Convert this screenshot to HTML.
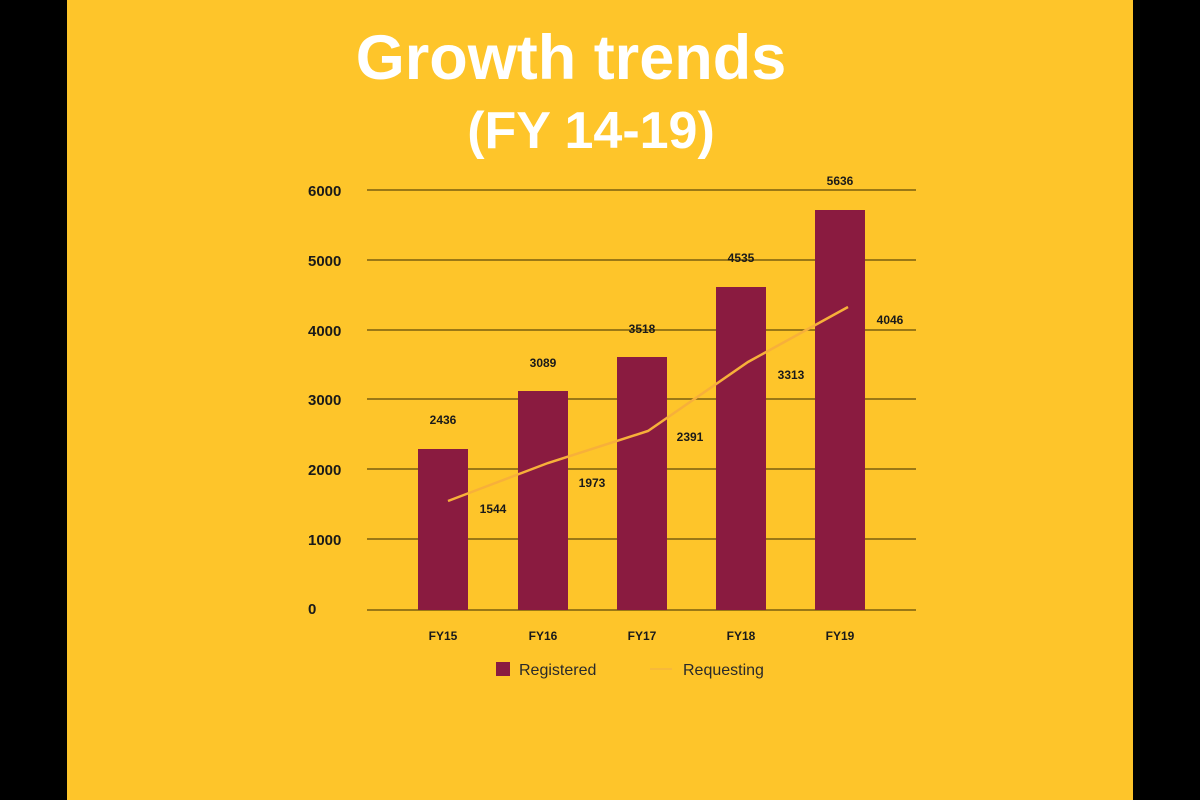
<!DOCTYPE html>
<html><head><meta charset="utf-8"><style>
html,body{margin:0;padding:0;width:1200px;height:800px;overflow:hidden;background:#000}
</style></head><body>
<svg width="1200" height="800" xmlns="http://www.w3.org/2000/svg" font-family="Liberation Sans, sans-serif">
<rect x="0" y="0" width="1200" height="800" fill="#000"/>
<rect x="67" y="0" width="1066" height="800" fill="#FEC52A"/>
<text x="571" y="79" text-anchor="middle" font-size="63" font-weight="bold" fill="#fff">Growth trends</text>
<text x="591" y="148" text-anchor="middle" font-size="52" font-weight="bold" fill="#fff">(FY 14-19)</text>
<g stroke="#7a5e10" stroke-width="1.5">
<line x1="367" y1="190" x2="916" y2="190"/>
<line x1="367" y1="260" x2="916" y2="260"/>
<line x1="367" y1="330" x2="916" y2="330"/>
<line x1="367" y1="399" x2="916" y2="399"/>
<line x1="367" y1="469" x2="916" y2="469"/>
<line x1="367" y1="539" x2="916" y2="539"/>
<line x1="367" y1="610" x2="916" y2="610"/>
</g>
<g font-size="15" font-weight="bold" fill="#1a1a1a">
<text x="308" y="196">6000</text>
<text x="308" y="266">5000</text>
<text x="308" y="336">4000</text>
<text x="308" y="405">3000</text>
<text x="308" y="475">2000</text>
<text x="308" y="545">1000</text>
<text x="308" y="614">0</text>
</g>
<g fill="#8A1B40">
<rect x="418" y="449" width="50" height="161"/>
<rect x="518" y="391" width="50" height="219"/>
<rect x="617" y="357" width="50" height="253"/>
<rect x="716" y="287" width="50" height="323"/>
<rect x="815" y="210" width="50" height="400"/>
</g>
<polyline points="448,501 548,463 648,431 748,362 848,307" fill="none" stroke="#F7B03A" stroke-width="2.5"/>
<g font-size="12" font-weight="bold" fill="#1a1a1a" text-anchor="middle">
<text x="443" y="424">2436</text>
<text x="493" y="513">1544</text>
<text x="543" y="367">3089</text>
<text x="592" y="487">1973</text>
<text x="642" y="333">3518</text>
<text x="690" y="441">2391</text>
<text x="741" y="262">4535</text>
<text x="791" y="379">3313</text>
<text x="840" y="185">5636</text>
<text x="890" y="324">4046</text>
<text x="443" y="640">FY15</text>
<text x="543" y="640">FY16</text>
<text x="642" y="640">FY17</text>
<text x="741" y="640">FY18</text>
<text x="840" y="640">FY19</text>
</g>
<rect x="496" y="662" width="14" height="14" fill="#8A1B40"/>
<text x="519" y="675" font-size="16" fill="#2a2a2a">Registered</text>
<line x1="650" y1="669" x2="672" y2="669" stroke="#F7B93A" stroke-width="2"/>
<text x="683" y="675" font-size="16" fill="#2a2a2a">Requesting</text>
</svg>
</body></html>
